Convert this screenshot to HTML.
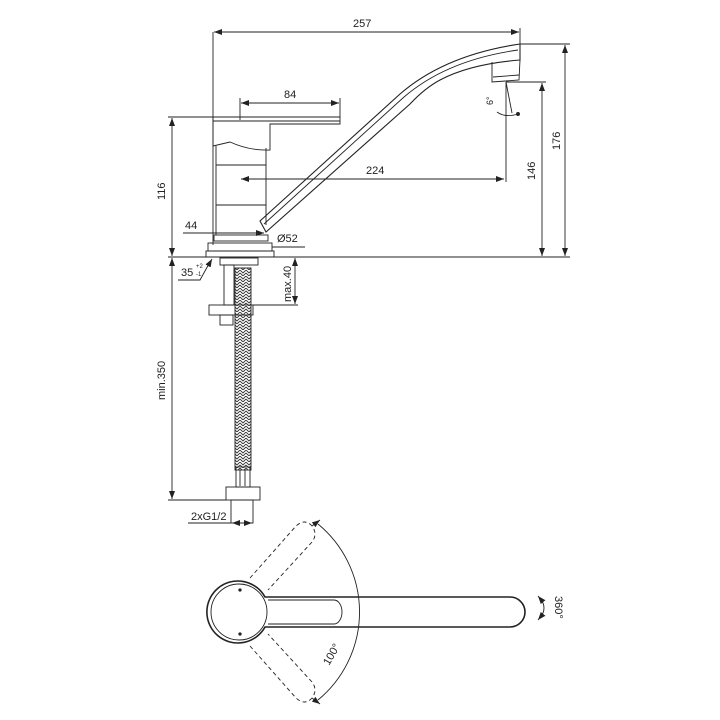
<!DOCTYPE html>
<html><head><style>body{margin:0;background:#fff}svg{display:block}text{font-family:"Liberation Sans",sans-serif;font-size:11px;fill:#222}</style></head>
<body>
<svg width="720" height="720" viewBox="0 0 720 720" xmlns="http://www.w3.org/2000/svg">
<defs>
<marker id="a" markerWidth="8" markerHeight="6" refX="8" refY="3" orient="auto-start-reverse" markerUnits="userSpaceOnUse"><path d="M0,0L8,3L0,6z" fill="#222"/></marker>
<pattern id="br" width="6" height="6" patternUnits="userSpaceOnUse"><path d="M0,0L3,3L6,0M0,3L3,6L6,3" stroke="#333" stroke-width="0.9" fill="none"/></pattern>
</defs>
<g stroke="#222" stroke-width="0.9" fill="none">
<!-- 257 -->
<line x1="213" y1="32" x2="213" y2="245"/><line x1="520" y1="28" x2="520" y2="45"/>
<line x1="214" y1="32" x2="519" y2="32" marker-start="url(#a)" marker-end="url(#a)"/>
<!-- 176 -->
<line x1="520" y1="44" x2="570" y2="44"/>
<line x1="565" y1="45" x2="565" y2="256" marker-start="url(#a)" marker-end="url(#a)"/>
<!-- 146 -->
<line x1="506" y1="82" x2="546" y2="82"/>
<line x1="542" y1="83" x2="542" y2="256" marker-start="url(#a)" marker-end="url(#a)"/>
<!-- baseline -->
<line x1="168" y1="257" x2="570" y2="257"/>
<!-- 116 -->
<line x1="168" y1="117" x2="213" y2="117"/>
<line x1="172" y1="118" x2="172" y2="256" marker-start="url(#a)" marker-end="url(#a)"/>
<!-- 84 -->
<line x1="240" y1="98" x2="240" y2="120"/><line x1="340" y1="98" x2="340" y2="117"/>
<line x1="241" y1="103" x2="339" y2="103" marker-start="url(#a)" marker-end="url(#a)"/>
<!-- 224 -->
<line x1="241" y1="179" x2="504" y2="179" marker-start="url(#a)" marker-end="url(#a)"/>
<line x1="506" y1="82" x2="506" y2="182"/>
<line x1="506" y1="82" x2="512" y2="113"/>
<path d="M497,112 Q505,118 518,114" /><circle cx="518" cy="114" r="1.5" fill="#222"/>
<!-- spout -->
<path d="M260,221 L400,94 Q445,55 520,44 L520,60 Q470,64 440,80 Q425,88 410,104 L266,232 Z" stroke-width="1.1"/>
<path d="M264,224 L404,97 Q447,60 518,50"/>
<path d="M492,62 L492,82 L519,80 L520,60"/><line x1="493" y1="77" x2="519" y2="75"/>
<!-- handle -->
<path d="M213,117 L340,117 L340,124 L270,124 L270,150 Q250,151 230,142 L213,146 Z"/>
<line x1="213" y1="121" x2="340" y2="121"/>
<!-- body -->
<path d="M216,146 L216,235 M266,148 L266,225"/>
<line x1="216" y1="165" x2="266" y2="165"/><line x1="216" y1="205" x2="266" y2="205"/>
<!-- 44 / flange -->
<line x1="183" y1="233" x2="264" y2="233" marker-end="url(#a)"/>
<rect x="214" y="235" width="54" height="6"/>
<rect x="208" y="243" width="64" height="8"/><rect x="206" y="251" width="68" height="6"/>
<line x1="272" y1="247" x2="305" y2="247"/>
<!-- under counter -->
<rect x="220" y="258" width="38" height="7"/>
<rect x="224" y="265" width="10" height="40"/>
<rect x="235" y="268" width="16" height="202" fill="url(#br)"/>
<rect x="209" y="305" width="44" height="10"/>
<rect x="220" y="315" width="13" height="10"/>
<line x1="253" y1="305" x2="298" y2="305"/>
<line x1="295" y1="258" x2="295" y2="304" marker-start="url(#a)" marker-end="url(#a)"/>
<path d="M178,280 L200,280 L210,262" /><line x1="208" y1="266" x2="212" y2="259" marker-end="url(#a)"/>
<!-- 350 -->
<line x1="172" y1="258" x2="172" y2="499" marker-start="url(#a)" marker-end="url(#a)"/>
<line x1="168" y1="500" x2="226" y2="500"/>
<rect x="236" y="467" width="14" height="20"/>
<line x1="240" y1="470" x2="240" y2="486"/><line x1="245" y1="470" x2="245" y2="486"/>
<rect x="226" y="487" width="34" height="13"/>
<rect x="231" y="500" width="22" height="23"/>
<line x1="188" y1="523" x2="231" y2="523"/>
<line x1="232" y1="523" x2="252" y2="523" marker-start="url(#a)" marker-end="url(#a)"/>
<!-- top view -->
<path d="M265,597 L510,597 A15,15 0 0 1 510,627 L265,627 A31,31 0 1 1 265,597 Z" stroke-width="1.6"/>
<path d="M268,600 L334,600 A8,12 0 0 1 334,624 L268,624"/>
<circle cx="239" cy="612" r="28"/>
<circle cx="240" cy="590" r="1.2" fill="#222"/><circle cx="240" cy="634" r="1.2" fill="#222"/>
<path d="M318,524 A114,114 0 0 1 318,700"/>
<g stroke-dasharray="4,3">
<path d="M250,578 L296,526 Q305,518 312,526 Q318,534 312,542 L268,590"/>
<path d="M250,646 L296,698 Q305,706 312,698 Q318,690 312,682 L268,634"/>
</g>
<line x1="312" y1="526" x2="320" y2="520" marker-end="url(#a)"/><line x1="312" y1="698" x2="320" y2="704" marker-end="url(#a)"/>
<path d="M540,598 Q548,608 540,618"/><line x1="543" y1="602" x2="538" y2="596" marker-end="url(#a)"/><line x1="543" y1="614" x2="538" y2="620" marker-end="url(#a)"/>
</g>
<text x="353" y="27">257</text>
<text x="284" y="98">84</text>
<text x="366" y="174">224</text>
<text x="185" y="229">44</text>
<text x="277" y="242">Ø52</text>
<text x="181" y="276">35</text><text x="196" y="268" style="font-size:6px">+2</text><text x="196" y="276" style="font-size:6px">-1</text>
<text x="191" y="520">2xG1/2</text>
<text transform="translate(165,200) rotate(-90)">116</text>
<text transform="translate(535,180) rotate(-90)">146</text>
<text transform="translate(560,150) rotate(-90)">176</text>
<text transform="translate(291,302) rotate(-90)">max.40</text>
<text transform="translate(165,400) rotate(-90)">min.350</text>
<text transform="translate(493,105) rotate(-90)" style="font-size:9px">6°</text>
<text transform="translate(329,666) rotate(-60)">100°</text>
<text transform="translate(555,596) rotate(90)">360°</text>
</svg>
</body></html>
